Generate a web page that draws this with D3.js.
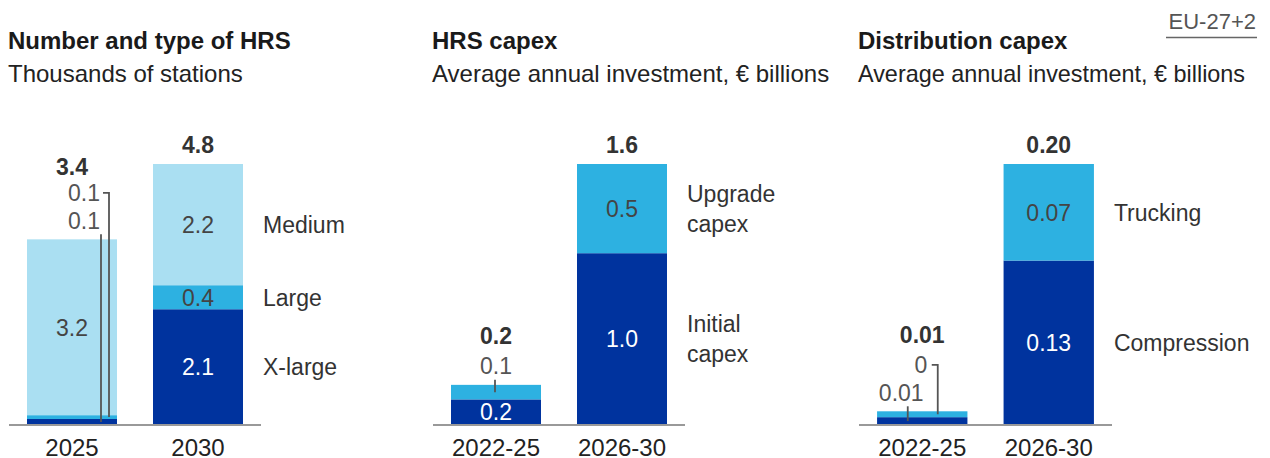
<!DOCTYPE html>
<html>
<head>
<meta charset="utf-8">
<script src="https://cdn.jsdelivr.net/npm/d3@7"></script>
<style>
  html, body { margin: 0; padding: 0; background: #fff; }
  svg { display: block; font-family: "Liberation Sans", Arial, sans-serif; }
</style>
</head>
<body>
<svg id="chart" width="1270" height="458"></svg>
<script>
// ---------- Data ----------
const hrsYears = ["2025", "2030"];
const hrsSeries = ["X-large", "Large", "Medium"];
const hrsXLarge = [0.11, 2.12];
const hrsLarge = [0.07, 0.44];
const hrsMedium = [3.22, 2.22];

const capexPeriods = ["2022-25", "2026-30"];
const capexSeries = ["Initial\ncapex", "Upgrade\ncapex"];
const capexInitial = [0.155, 1.04];
const capexUpgrade = [0.088, 0.54];

const distPeriods = ["2022-25", "2026-30"];
const distSeries = ["Compression", "Trucking"];
const distCompression = [0.006, 0.126];
const distTrucking = [0.0045, 0.074];

const titles = ["Number and type of HRS", "HRS capex", "Distribution capex"];
const subtitles = ["Thousands of stations", "Average annual investment, € billions", "Average annual investment, € billions"];
const regionNote = "EU-27+2";

// ---------- Styles ----------
const colors3 = ["#00339E", "#2DB1E1", "#AADFF2"];
const colors2 = ["#00339E", "#2DB1E1"];
const FS = 24;      // titles, axis
const VFS = 23;     // value labels, series names
const baseY = 425, topY = 164;

const fmt1 = d3.format(".1f");
const fmt2 = v => (v < 0.005 ? "0" : d3.format(".2f")(v));

const panels = [
  { x0: 9, x1: 261, title: titles[0], subtitle: subtitles[0], subFS: 24, cats: hrsYears, names: hrsSeries,
    values: [hrsXLarge, hrsLarge, hrsMedium], colors: colors3, fmt: fmt1, totalGap: 26,
    callouts: [
      { seg: 1, dx: 28, anchor: "end", lineDx: 37, hook: true },
      { seg: 0, dx: 28, anchor: "end", lineDx: 29, hook: false }
    ] },
  { x0: 433, x1: 685, title: titles[1], subtitle: subtitles[1], subFS: 24, cats: capexPeriods, names: capexSeries,
    values: [capexInitial, capexUpgrade], colors: colors2, fmt: fmt1, totalGap: 30,
    callouts: [
      { seg: 1, dx: 0, anchor: "middle", lineDx: -1, hook: false }
    ] },
  { x0: 859, x1: 1112, title: titles[2], subtitle: subtitles[2], subFS: 23.4, cats: distPeriods, names: distSeries,
    values: [distCompression, distTrucking], colors: colors2, fmt: fmt2, totalGap: 30,
    callouts: [
      { seg: 1, dx: 5, anchor: "end", lineDx: 15.5, hook: true },
      { seg: 0, dx: -21, anchor: "middle", lineDx: -14.5, hook: false }
    ] }
];

const svg = d3.select("#chart");

// region note
svg.append("text").attr("x", 1256).attr("y", 29).attr("text-anchor", "end")
  .attr("font-size", 22).attr("fill", "#555").text(regionNote);
svg.append("line").attr("x1", 1166).attr("x2", 1257).attr("y1", 37.5).attr("y2", 37.5)
  .attr("stroke", "#666").attr("stroke-width", 1.5);

panels.forEach(p => {
  const g = svg.append("g");
  g.append("text").attr("x", p.x0 - 1).attr("y", 49).attr("font-size", FS).attr("font-weight", "bold")
    .attr("fill", "#1a1a1a").text(p.title);
  g.append("text").attr("x", p.x0 - 1).attr("y", 82).attr("font-size", p.subFS)
    .attr("fill", "#222").text(p.subtitle);

  const totals = p.cats.map((c, i) => d3.sum(p.values, s => s[i]));
  const x = d3.scaleBand().domain(p.cats).range([p.x0, p.x1]).paddingInner(36 / 126).paddingOuter(18 / 126);
  const y = d3.scaleLinear().domain([0, d3.max(totals)]).range([baseY, topY]);

  const stackData = p.cats.map((c, i) => {
    let acc = 0;
    return p.values.map((s, k) => { const y0 = acc; acc += s[i]; return { k, i, cat: c, v: s[i], y0, y1: acc }; });
  });

  // bars
  stackData.forEach(segs => {
    segs.forEach(s => {
      g.append("rect").attr("x", x(s.cat)).attr("width", x.bandwidth())
        .attr("y", y(s.y1)).attr("height", y(s.y0) - y(s.y1))
        .attr("fill", p.colors[s.k]);
    });
  });

  // axis baseline
  const axis = d3.axisBottom(x).tickSize(0).tickPadding(14);
  const ax = g.append("g").attr("transform", `translate(0,${baseY})`).call(axis);
  ax.select(".domain").attr("stroke", "#999").attr("stroke-width", 2).attr("d", `M${p.x0},0H${p.x1}`);
  ax.selectAll(".tick text").attr("font-size", FS).attr("font-family", "Liberation Sans, Arial, sans-serif")
    .attr("fill", "#222").attr("dy", "0.69em");

  // labels
  stackData.forEach((segs, i) => {
    const cx = x(p.cats[i]) + x.bandwidth() / 2;
    const barTop = y(totals[i]);
    const small = segs.filter(s => y(s.y0) - y(s.y1) < 20);
    segs.filter(s => y(s.y0) - y(s.y1) >= 20).forEach(s => {
      g.append("text").attr("x", cx).attr("y", (y(s.y0) + y(s.y1)) / 2).attr("dy", "0.36em")
        .attr("text-anchor", "middle").attr("font-size", VFS)
        .attr("fill", s.k === 0 ? "#ffffff" : "#444444").text(p.fmt(s.v));
    });
    // callouts for small segments (stacked above bar, top segment first)
    const firstY = barTop - 19 - 27.5 * (small.length - 1);
    let labelY = firstY;
    const ordered = p.callouts.filter(c => small.some(s => s.k === c.seg));
    ordered.forEach(c => {
      const s = segs[c.seg];
      const ly = labelY;
      g.append("text").attr("x", cx + c.dx).attr("y", ly).attr("dy", "0.36em")
        .attr("text-anchor", c.anchor).attr("font-size", VFS).attr("fill", "#555").text(p.fmt(s.v));
      const lx = cx + c.lineDx;
      const segMid = (y(s.y0) + y(s.y1)) / 2;
      const path = c.hook
        ? `M${lx - 6},${ly}H${lx}V${segMid}`
        : `M${lx},${ly + 14}V${segMid}`;
      g.append("path").attr("d", path).attr("fill", "none").attr("stroke", "#555").attr("stroke-width", 1.8);
      labelY += 27.5;
    });
    const totalY = small.length ? firstY - p.totalGap : barTop - 19;
    g.append("text").attr("x", cx).attr("y", totalY).attr("dy", "0.36em")
      .attr("text-anchor", "middle").attr("font-size", VFS).attr("font-weight", "bold")
      .attr("fill", "#333").text(p.fmt(totals[i]));
  });

  // series names beside last bar
  const lastIdx = p.cats.length - 1;
  const lx = x(p.cats[lastIdx]) + x.bandwidth() + 20;
  stackData[lastIdx].forEach(s => {
    const mid = (y(s.y0) + y(s.y1)) / 2;
    const lines = p.names[s.k].split("\n");
    const t = g.append("text").attr("x", lx).attr("font-size", VFS).attr("fill", "#333");
    lines.forEach((ln, j) => {
      t.append("tspan").attr("x", lx)
        .attr("y", mid + (j - (lines.length - 1) / 2) * 30).attr("dy", "0.36em").text(ln);
    });
  });
});
</script>
</body>
</html>
